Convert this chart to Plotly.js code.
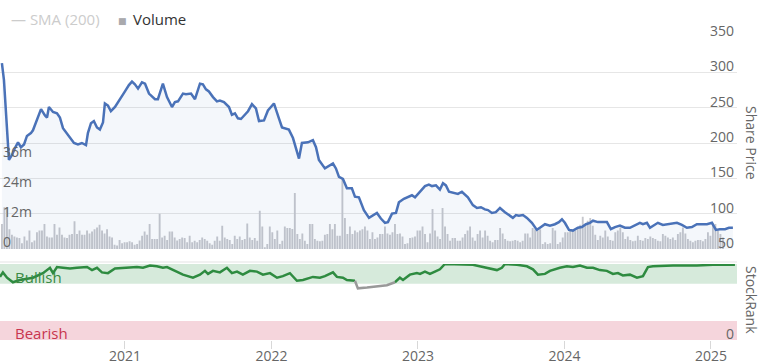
<!DOCTYPE html>
<html><head><meta charset="utf-8">
<script src="https://cdn.plot.ly/plotly-3.0.1.min.js"></script>
<style>html,body{margin:0;padding:0;background:#fff}#chart{width:770px;height:364px}</style>
</head><body><div id="chart"></div>
<script>
// Share price (decimal year, price)
const priceDates = [2020.160,2020.174,2020.208,2020.229,2020.249,2020.270,2020.290,2020.311,2020.331,2020.358,2020.372,2020.392,2020.427,2020.454,2020.468,2020.481,2020.509,2020.536,2020.556,2020.577,2020.604,2020.625,2020.652,2020.679,2020.706,2020.734,2020.747,2020.768,2020.788,2020.809,2020.829,2020.850,2020.863,2020.884,2020.904,2020.932,2020.966,2021.000,2021.027,2021.048,2021.068,2021.089,2021.116,2021.137,2021.164,2021.184,2021.205,2021.225,2021.259,2021.287,2021.321,2021.341,2021.362,2021.396,2021.416,2021.451,2021.478,2021.512,2021.532,2021.553,2021.573,2021.601,2021.628,2021.648,2021.676,2021.710,2021.730,2021.751,2021.771,2021.792,2021.812,2021.840,2021.867,2021.894,2021.915,2021.949,2021.976,2022.017,2022.051,2022.072,2022.119,2022.147,2022.188,2022.208,2022.249,2022.283,2022.304,2022.324,2022.365,2022.420,2022.440,2022.461,2022.488,2022.515,2022.549,2022.570,2022.597,2022.631,2022.666,2022.700,2022.720,2022.747,2022.775,2022.795,2022.823,2022.850,2022.870,2022.904,2022.932,2022.959,2022.980,2023.014,2023.048,2023.075,2023.096,2023.123,2023.150,2023.171,2023.191,2023.212,2023.253,2023.273,2023.300,2023.341,2023.375,2023.403,2023.430,2023.457,2023.478,2023.505,2023.532,2023.560,2023.594,2023.621,2023.648,2023.669,2023.689,2023.717,2023.744,2023.778,2023.812,2023.840,2023.867,2023.901,2023.935,2023.962,2023.983,2024.003,2024.031,2024.058,2024.092,2024.119,2024.147,2024.174,2024.195,2024.229,2024.263,2024.290,2024.317,2024.345,2024.379,2024.413,2024.447,2024.481,2024.515,2024.536,2024.563,2024.584,2024.611,2024.638,2024.672,2024.706,2024.741,2024.768,2024.802,2024.836,2024.870,2024.904,2024.939,2024.973,2025.007,2025.034,2025.061,2025.096,2025.123,2025.150];
const priceValues = [313,289,176,183,193,201,194,198,210,214,218,229,248,239,236,251,244,242,236,221,214,207,200,198,200,197,214,228,231,222,219,229,256,253,245,251,263,273,282,287,283,277,286,284,270,266,262,262,284,265,251,258,259,270,269,270,262,284,283,276,273,265,259,260,258,251,240,242,235,234,239,245,255,249,231,232,246,256,235,222,219,207,178,200,201,204,194,176,164,171,164,152,149,136,136,124,123,105,94,99,101,93,87,88,100,101,116,121,124,126,123,131,139,141,139,140,134,143,140,131,129,128,131,123,112,108,109,106,105,101,102,108,102,98,94,98,97,98,94,87,77,81,85,83,85,88,92,87,77,76,80,81,85,87,90,88,88,88,78,81,83,80,80,84,87,85,87,80,83,87,84,85,87,87,84,80,81,85,85,85,87,77,78,78,80,80];

// Volume (millions), regular bars from first to last date
const volumeFirstDate = 2020.160;
const volumeLastDate = 2025.082;
const volumeValues = [10.0,16.7,16.7,7.9,5.7,5.0,4.6,4.4,2.3,5.0,3.4,7.4,2.7,3.4,6.7,7.4,7.4,10.0,5.0,4.6,4.6,10.0,5.7,8.6,5.7,4.6,4.4,5.7,6.0,11.1,6.0,7.4,5.7,5.7,7.4,6.2,7.0,7.9,8.6,9.7,7.4,6.2,7.9,5.0,4.6,1.7,1.4,3.6,2.3,2.7,2.7,3.1,2.7,1.7,2.0,3.4,5.3,7.0,5.7,10.0,4.0,4.0,4.0,14.1,4.6,5.3,3.6,7.0,7.0,4.6,3.4,4.0,4.6,
4.4,2.7,5.3,2.7,3.3,2.7,3.6,4.6,4.0,3.3,2.3,1.7,3.3,5.0,3.3,9.3,4.6,4.0,3.6,2.0,5.3,4.0,5.0,3.6,4.0,10.2,4.6,3.6,4.4,3.3,15.3,9.0,0.7,2.0,9.0,6.7,4.0,7.4,2.0,3.3,9.0,8.4,8.4,8.0,22.4,6.0,4.0,6.2,3.3,2.0,10.0,10.0,4.0,3.3,3.1,3.3,5.7,6.0,10.0,7.9,10.0,5.3,5.3,28.0,12.4,6.0,9.0,6.0,7.4,6.7,7.4,7.9,9.0,
7.4,4.0,6.7,4.0,4.6,6.0,6.0,9.0,6.2,5.7,6.7,10.0,6.0,6.2,5.0,2.0,2.3,4.4,4.6,5.0,7.4,7.4,9.0,6.0,2.7,6.2,16.0,7.4,5.0,4.0,16.4,9.0,6.0,3.3,4.4,4.4,3.3,3.3,4.6,6.0,7.4,9.0,4.6,3.3,6.0,7.4,4.6,7.4,5.3,3.3,2.7,3.6,3.6,8.4,6.2,4.0,3.3,3.1,3.3,3.6,3.3,2.7,3.3,6.2,6.2,4.6,8.4,7.9,7.4,7.9,2.0,2.7,2.0,2.3,8.4,
7.4,2.0,2.7,4.6,6.7,6.7,7.6,7.4,7.4,8.6,9.7,12.9,10.0,11.3,12.4,9.3,5.7,3.6,5.3,4.6,7.4,5.0,3.6,3.3,6.7,7.4,8.6,6.7,4.0,5.0,3.6,3.1,3.3,5.3,3.6,3.3,4.4,4.0,5.0,4.4,4.0,3.3,3.1,6.0,5.3,4.6,4.0,4.6,3.6,6.0,6.7,8.6,6.2,4.0,3.3,2.7,3.3,3.6,3.6,3.1,4.0,6.7,5.3,10.3,10.0,7.4,6.0,4.6];

// StockRank (decimal year, rank); points 55-57 are the grey (neutral) stretch
const rankDates = [2020.147,2020.167,2020.195,2020.235,2020.283,2020.372,2020.440,2020.488,2020.509,2020.536,2020.577,2020.625,2020.672,2020.741,2020.775,2020.809,2020.843,2020.884,2020.932,2021.014,2021.082,2021.123,2021.171,2021.218,2021.259,2021.287,2021.328,2021.396,2021.464,2021.512,2021.546,2021.567,2021.601,2021.648,2021.696,2021.730,2021.765,2021.805,2021.853,2021.901,2021.942,2021.990,2022.038,2022.078,2022.126,2022.174,2022.215,2022.283,2022.331,2022.365,2022.420,2022.447,2022.488,2022.515,2022.570,2022.590,2022.652,2022.788,2022.843,2022.857,2022.877,2022.898,2022.945,2022.993,2023.014,2023.048,2023.082,2023.116,2023.150,2023.184,2023.375,2023.444,2023.539,2023.573,2023.594,2023.676,2023.744,2023.785,2023.819,2023.867,2023.901,2023.969,2024.017,2024.058,2024.106,2024.154,2024.195,2024.242,2024.290,2024.331,2024.365,2024.399,2024.447,2024.495,2024.536,2024.570,2024.604,2024.741,2024.904,2025.014,2025.164];
const rankValues = [83,89,82,76,79,82,88,95,88,96,95,94,95,96,92,95,89,88,94,95,96,95,98,97,95,96,92,86,82,86,91,87,91,89,95,88,90,86,91,90,86,88,82,84,88,78,79,83,82,84,89,83,82,79,78,68,69,72,76,79,82,79,86,88,87,90,87,90,93,100,99,96,92,95,100,99,97,93,86,87,91,95,97,96,98,95,95,92,91,87,88,85,86,82,84,96,97,98,98,99,99];
const rankState = rankDates.map((d, i) => (i >= 55 && i <= 57) ? 'n' : 'g');

const yearTicks = [2021, 2022, 2023, 2024, 2025];
const priceTicks = [50, 100, 150, 200, 250, 300, 350];
const volumeTicks = [0, 12, 24, 36];
const volumeTickText = ['0', '12m', '24m', '36m'];

const n = volumeValues.length;
const volumeDates = volumeValues.map((v, i) => volumeFirstDate + i * (volumeLastDate - volumeFirstDate) / (n - 1));

const greenY = rankValues.map((v, i) => rankState[i] === 'g' ? v : null);
const greyY = rankValues.map((v, i) => (rankState[i] === 'n' || rankState[i - 1] === 'n' || rankState[i + 1] === 'n') ? v : null);

const FONT = '"Open Sans", "DejaVu Sans", sans-serif';
const W = 737; // plot width in px

const traces = [
  {type: 'bar', x: volumeDates, y: volumeValues, xaxis: 'x', yaxis: 'y',
   marker: {color: '#c6c7cc', line: {width: 0}}, hoverinfo: 'skip', name: 'Volume'},
  {type: 'scatter', mode: 'lines', x: priceDates, y: priceValues, xaxis: 'x', yaxis: 'y2',
   line: {color: '#4a72b8', width: 2.5}, fill: 'tozeroy', fillcolor: 'rgba(74,114,184,0.06)', name: 'Share Price'},
  {type: 'scatter', mode: 'lines', x: rankDates, y: greenY, xaxis: 'x', yaxis: 'y3', connectgaps: false,
   line: {color: '#2e8b40', width: 2.5}, name: 'StockRank'},
  {type: 'scatter', mode: 'lines', x: rankDates, y: greyY, xaxis: 'x', yaxis: 'y3', connectgaps: false,
   line: {color: '#999999', width: 2.5}, name: 'StockRank neutral'}
];

const tf = {family: FONT, size: 14, color: '#666666'};
const layout = {
  width: 770, height: 364,
  margin: {l: 0, r: 33, t: 37, b: 24, pad: 0},
  paper_bgcolor: '#ffffff', plot_bgcolor: 'rgba(0,0,0,0)',
  showlegend: false, bargap: 0.25,
  font: {family: FONT, size: 14, color: '#666666'},
  xaxis: {range: [2020.147, 2025.178], tickvals: yearTicks, ticktext: yearTicks.map(String),
    ticks: 'outside', ticklen: 8, tickcolor: '#d8d8d8', tickwidth: 1, showgrid: false, zeroline: false,
    showline: false, anchor: 'y3', tickfont: tf, ticklabelstandoff: -5, ticklabeloverflow: 'allow', automargin: false},
  yaxis: {domain: [0.3003, 1], range: [0, 84.8], tickvals: volumeTicks, ticktext: volumeTickText,
    side: 'left', ticklabelposition: 'inside top', ticklabelshift: 3, ticklabeloverflow: 'allow', showgrid: false, zeroline: false, showline: false,
    ticks: '', tickfont: tf, anchor: 'x', automargin: false},
  yaxis2: {domain: [0.3003, 1], range: [49.9, 350.1], tickvals: priceTicks, overlaying: 'y', side: 'right',
    ticklabelposition: 'inside top', ticklabelshift: 4, ticklabeloverflow: 'allow', showgrid: true, gridcolor: '#e6e6e6', gridwidth: 1, zeroline: false,
    showline: false, ticks: '', tickfont: tf, anchor: 'x', automargin: false},
  yaxis3: {domain: [0, 0.2508], range: [0, 100], tickvals: [0], ticktext: ['0'], side: 'right',
    ticklabelposition: 'inside top', ticklabelshift: 4, ticklabeloverflow: 'allow', showgrid: false, zeroline: false, showline: false, ticks: '',
    tickfont: tf, anchor: 'x', automargin: false},
  shapes: [
    {type: 'rect', xref: 'paper', yref: 'y3', x0: 0, x1: 1, y0: 74, y1: 100, fillcolor: '#d6eadb', line: {width: 0}, layer: 'below'},
    {type: 'rect', xref: 'paper', yref: 'y3', x0: 0, x1: 1, y0: 0, y1: 25, fillcolor: '#f5d5dc', line: {width: 0}, layer: 'below'},
    {type: 'line', xref: 'paper', yref: 'paper', x0: 0, x1: 1, y0: 0.2574, y1: 0.2574, line: {color: '#e3e3e3', width: 1}, layer: 'below'}
  ],
  annotations: [
    {xref: 'paper', yref: 'paper', x: 9 / W, y: 1.0594, xanchor: 'left', yanchor: 'middle', showarrow: false,
     text: '— SMA (200)', font: {family: FONT, size: 15, color: '#cccccc'}},
    {xref: 'paper', yref: 'paper', x: 116 / W, y: 1.0560, xanchor: 'left', yanchor: 'middle', showarrow: false,
     text: '■', font: {family: FONT, size: 9, color: '#a9a9ad'}},
    {xref: 'paper', yref: 'paper', x: 131 / W, y: 1.0594, xanchor: 'left', yanchor: 'middle', showarrow: false,
     text: 'Volume', font: {family: FONT, size: 15, color: '#333333'}},
    {xref: 'paper', yref: 'y3', x: 13 / W, y: 83, xanchor: 'left', yanchor: 'middle', showarrow: false,
     text: 'Bullish', font: {family: FONT, size: 15, color: '#3b8a45'}},
    {xref: 'paper', yref: 'y3', x: 13 / W, y: 9, xanchor: 'left', yanchor: 'middle', showarrow: false,
     text: 'Bearish', font: {family: FONT, size: 15, color: '#c8354f'}},
    {xref: 'paper', yref: 'paper', x: 752 / W, y: 0.650, xanchor: 'center', yanchor: 'middle', showarrow: false,
     textangle: 90, text: 'Share Price', font: {family: FONT, size: 14, color: '#666666'}},
    {xref: 'paper', yref: 'paper', x: 752 / W, y: 0.132, xanchor: 'center', yanchor: 'middle', showarrow: false,
     textangle: 90, text: 'StockRank', font: {family: FONT, size: 14, color: '#666666'}}
  ]
};

Plotly.newPlot('chart', traces, layout, {displayModeBar: false, staticPlot: true});
</script>
</body></html>
